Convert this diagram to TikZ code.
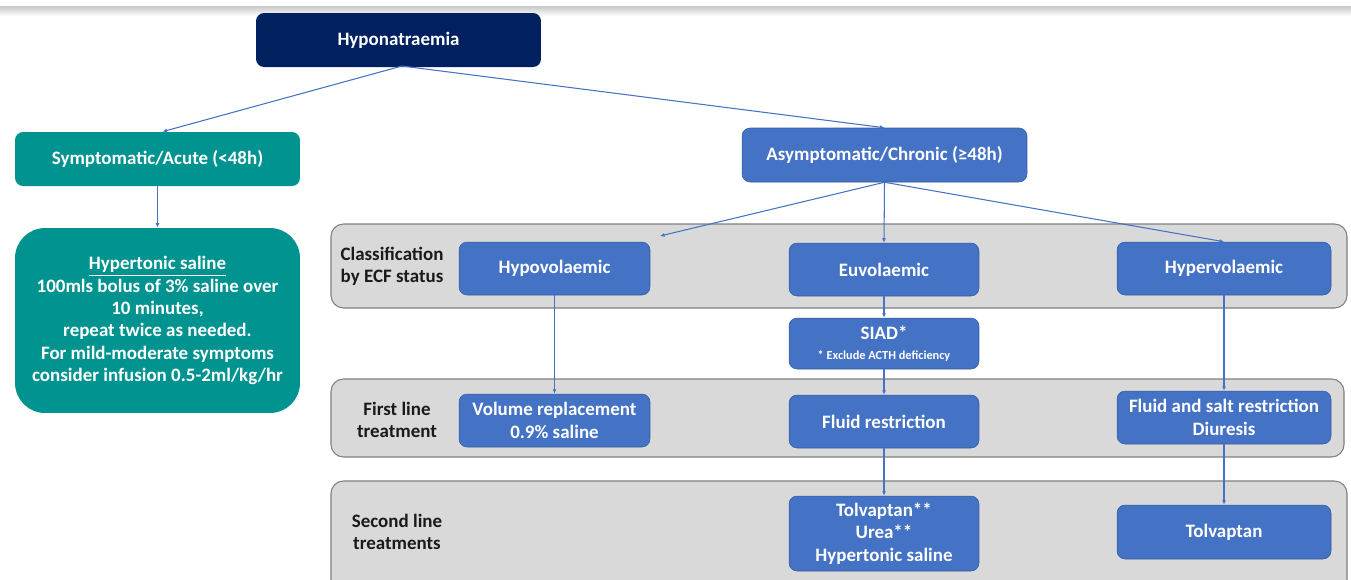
\documentclass[tikz,border=0pt]{standalone}
\usepackage{fontspec}
\setmainfont{Carlito}
\usetikzlibrary{arrows.meta,calc}
\definecolor{navy}{HTML}{002060}
\definecolor{teal1}{HTML}{009390}
\definecolor{blue1}{HTML}{4472C4}
\definecolor{band}{HTML}{D9D9D9}
\definecolor{bandline}{HTML}{7F7F7F}
\definecolor{labtxt}{HTML}{1A1A1A}
\tikzset{
  box/.style={rounded corners=0.16cm, draw=none, text=white, font=\bfseries\fontsize{10.8}{12.7}\selectfont, align=center, inner sep=0pt},
  navybox/.style={box, fill=navy, minimum width=5.7cm, minimum height=1.08cm},
  tealbox/.style={box, fill=teal1, minimum width=5.7cm, minimum height=1.08cm},
  bluebox/.style={box, fill=blue1, draw=blue1!80!black, line width=0.3pt},
  bandbox/.style={rounded corners=0.25cm, fill=band, draw=bandline, line width=0.6pt},
  rowlab/.style={text=labtxt, font=\bfseries\fontsize{10.8}{12.7}\selectfont, align=center},
  conn/.style={draw=blue1, line width=0.6pt, -{Latex[length=0.9mm,width=0.8mm]}}
}
\begin{document}
\begin{tikzpicture}[x=0.02cm,y=-0.02cm]
\useasboundingbox (0,0) rectangle (1351,579);
\clip (0,0) rectangle (1351,579);
\fill[white] (0,0) rectangle (1351,579);
\shade[top color=black!22, bottom color=white] (0,6) rectangle (1351,16);
% bands
\path[bandbox] (331,224) rectangle (1347,308);
\path[bandbox] (331,379) rectangle (1344,457);
\path[bandbox] (331,481) rectangle (1347,600);
% top nodes
\node[navybox] (hypo) at (398.5,40) {Hyponatraemia};
\node[tealbox] (sym) at (157.5,159) {Symptomatic/Acute (<48h)};
\node[box, fill=teal1, rounded corners=0.6cm, minimum width=5.7cm, minimum height=3.7cm] (hts) at (157.5,320.5)
  {\underline{Hypertonic saline}\\100mls bolus of 3\% saline over\\10 minutes,\\repeat twice as needed.\\For mild-moderate symptoms\\consider infusion 0.5-2ml/kg/hr};
\node[bluebox, minimum width=5.7cm, minimum height=1.08cm] (asym) at (884.5,155) {Asymptomatic/Chronic (≥48h)};
% row labels
\node[rowlab] (lab1) at (392,266) {Classification\\by ECF status};
\node[rowlab] (lab2) at (397,420) {First line\\treatment};
\node[rowlab] (lab3) at (397,532) {Second line\\treatments};
% classification
\node[bluebox, minimum width=3.82cm, minimum height=1.06cm] (hypov) at (554.5,268.5) {Hypovolaemic};
\node[bluebox, minimum width=3.8cm, minimum height=1.06cm] (euv) at (884,269.5) {Euvolaemic};
\node[bluebox, minimum width=4.28cm, minimum height=1.06cm] (hyperv) at (1224,268.5) {Hypervolaemic};
\node[bluebox, minimum width=3.8cm, minimum height=1.02cm] (siad) at (884,343.5) {SIAD*\\[-1pt]{\fontsize{7}{8}\selectfont * Exclude ACTH deficiency}};
% first line
\node[bluebox, minimum width=3.82cm, minimum height=1.06cm] (vol) at (554.5,420.5) {Volume replacement\\0.9\% saline};
\node[bluebox, minimum width=3.8cm, minimum height=1.06cm] (fluid) at (884,421.5) {Fluid restriction};
\node[bluebox, minimum width=4.28cm, minimum height=1.06cm] (fsalt) at (1224,417.5) {Fluid and salt restriction\\Diuresis};
% second line
\node[bluebox, minimum width=3.8cm, minimum height=1.5cm] (tolv2) at (884,533.5) {Tolvaptan**\\Urea**\\Hypertonic saline};
\node[bluebox, minimum width=4.28cm, minimum height=1.08cm] (tolv) at (1224,532) {Tolvaptan};
% connectors
\coordinate (hypin) at (660,236);
\coordinate (hypsrc) at (402,66);
\draw[conn] (hypsrc) -- ($(sym.north)+(5,0)$);
\draw[conn] (hypsrc) -- (asym.north);
\draw[conn] (sym.south) -- (hts.north);
\draw[conn] (asym.south) -- (hypin);
\draw[conn] (asym.south) -- (euv.north);
\draw[conn] (asym.south) -- (hyperv.north);
\draw[conn] (hypov.south) -- (vol.north);
\draw[conn] (euv.south) -- (siad.north);
\draw[conn] (siad.south) -- (fluid.north);
\draw[conn] (fluid.south) -- (tolv2.north);
\draw[conn] (hyperv.south) -- (fsalt.north);
\draw[conn] (fsalt.south) -- (tolv.north);
\end{tikzpicture}
\end{document}
